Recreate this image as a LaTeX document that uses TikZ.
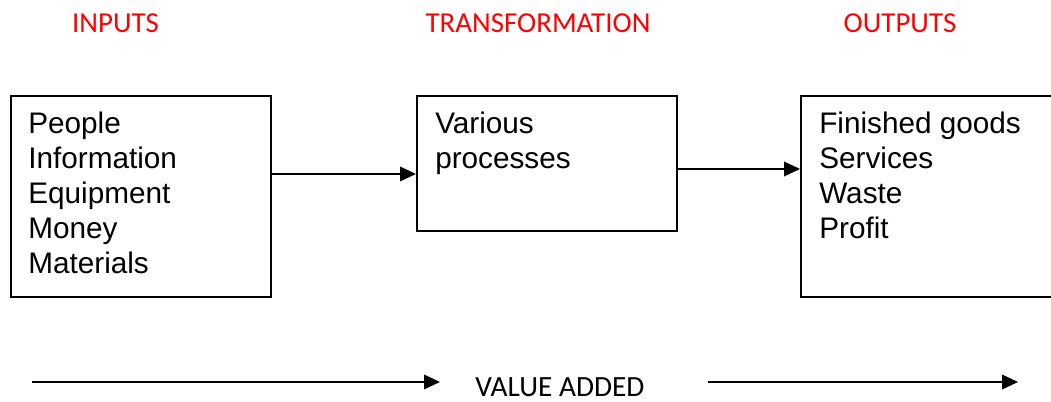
\documentclass[tikz,border=0pt]{standalone}
\usepackage{fontspec}
\setmainfont{Liberation Sans}
\newfontfamily\headfont{Carlito}
\usetikzlibrary{arrows.meta}

\tikzset{
  stagebox/.style={draw=black, line width=1.3pt, inner sep=0pt, anchor=north west},
  itemtext/.style={anchor=north west, inner sep=0pt, align=left,
    font=\fontsize{22.3pt}{26.25pt}\selectfont},
  heading/.style={anchor=base, inner sep=0pt, text=red,
    font=\headfont\fontsize{21.7pt}{25pt}\selectfont},
  flow/.style={line width=1.2pt, -{Triangle[length=12pt, width=11pt]}},
}

\begin{document}
\begin{tikzpicture}[x=0.75pt, y=-0.75pt]
  \useasboundingbox (0,0) rectangle (1051,402);

  % stage headings
  \node[heading] (hin)  at (115.5,33) {INPUTS};
  \node[heading] (htr)  at (538,33)   {TRANSFORMATION};
  \node[heading] (hout) at (900,33)   {OUTPUTS};

  % stage boxes
  \node[stagebox, minimum width=260*0.75pt, minimum height=201*0.75pt] (inbox)  at (10,95)  {};
  \node[stagebox, minimum width=260*0.75pt, minimum height=135*0.75pt] (trbox)  at (416,95) {};
  \node[stagebox, minimum width=270*0.75pt, minimum height=201*0.75pt] (outbox) at (800,95) {};

  % box contents
  \node[itemtext] (intext)  at (28,112)  {People\\Information\\Equipment\\Money\\Materials};
  \node[itemtext] (trtext)  at (435,112) {Various\\processes};
  \node[itemtext] (outtext) at (819,112) {Finished goods\\Services\\Waste\\Profit};

  % flow between stages
  \draw[flow] (inbox.east |- 0,174) -- (trbox.west |- 0,174);
  \draw[flow] (trbox.east |- 0,169) -- (outbox.west |- 0,169);

  % value added line
  \node[heading, text=black, font=\headfont\fontsize{22pt}{25pt}\selectfont] (va) at (560,397) {VALUE ADDED};
  \coordinate (va1s) at (32,382);
  \coordinate (va1e) at (440,382);
  \coordinate (va2s) at (708,382);
  \coordinate (va2e) at (1018,382);
  \draw[flow] (va1s) -- (va1e);
  \draw[flow] (va2s) -- (va2e);
\end{tikzpicture}
\end{document}
